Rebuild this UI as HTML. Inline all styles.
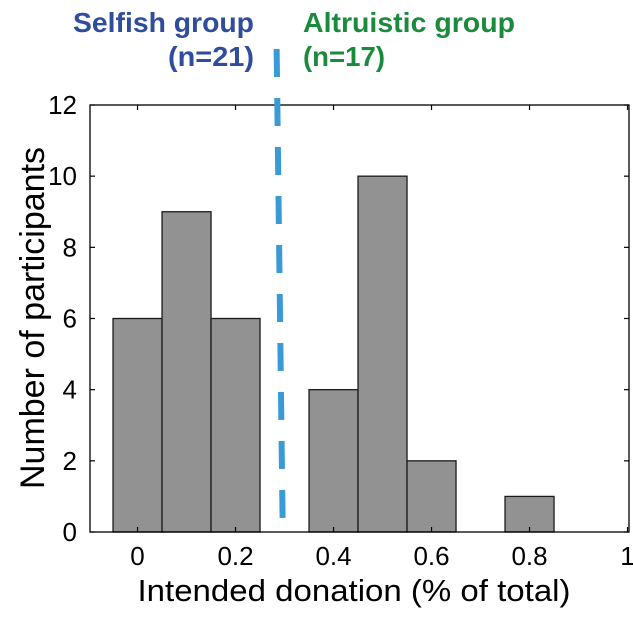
<!DOCTYPE html>
<html><head><meta charset="utf-8"><style>
html,body{margin:0;padding:0;background:#fff;}
svg{display:block;font-family:"Liberation Sans",Arial,sans-serif;}
</style></head><body>
<svg id="chart" width="633" height="617" viewBox="0 0 633 617">
  <text x="73" y="32" font-size="28" font-weight="bold" fill="#2f4d9c" textLength="181" lengthAdjust="spacingAndGlyphs">Selfish group</text>
  <text x="254" y="66" font-size="28" font-weight="bold" fill="#2f4d9c" text-anchor="end" textLength="86" lengthAdjust="spacingAndGlyphs">(n=21)</text>
  <text x="303" y="32" font-size="28" font-weight="bold" fill="#1c8a3c" textLength="212" lengthAdjust="spacingAndGlyphs">Altruistic group</text>
  <text x="303" y="66" font-size="28" font-weight="bold" fill="#1c8a3c" textLength="82" lengthAdjust="spacingAndGlyphs">(n=17)</text>
  <g id="bars"></g>
  <rect x="90" y="105" width="539" height="427" fill="none" stroke="#000" stroke-width="1.3"/>
  <g id="ticks"></g>
  <line id="threshold" stroke="#3a9ad6" stroke-width="6" stroke-dasharray="28,21"/>
  <text transform="translate(44,318) rotate(-90)" font-size="34" text-anchor="middle">Number of participants</text>
  <text x="354" y="601" font-size="31" text-anchor="middle" textLength="433" lengthAdjust="spacingAndGlyphs">Intended donation (% of total)</text>
</svg>
<script>
const binCenters = [0, 0.1, 0.2, 0.4, 0.5, 0.6, 0.8];
const counts = [6, 9, 6, 4, 10, 2, 1];
const xTicks = [0, 0.2, 0.4, 0.6, 0.8, 1];
const xTickLabels = ["0", "0.2", "0.4", "0.6", "0.8", "1"];
const yTicks = [0, 2, 4, 6, 8, 10, 12];
const binWidth = 0.1;
const threshold = 0.29;

const ns = "http://www.w3.org/2000/svg";
const X0 = 90, X1 = 629, Y0 = 532, Y1 = 105;
const xMin = -0.097, xMax = 1.003, yMin = 0, yMax = 12;
const sx = v => X0 + (v - xMin) / (xMax - xMin) * (X1 - X0);
const sy = v => Y0 - (v - yMin) / (yMax - yMin) * (Y0 - Y1);
function mk(tag, attrs, parent){const e=document.createElementNS(ns,tag);for(const k in attrs)e.setAttribute(k,attrs[k]);parent.appendChild(e);return e;}

const bars = document.getElementById('bars');
binCenters.forEach((c,i)=>{
  const r = mk('rect',{x:sx(c-binWidth/2),y:sy(counts[i]),width:sx(c+binWidth/2)-sx(c-binWidth/2),height:sy(0)-sy(counts[i]),fill:'#929292',stroke:'#1a1a1a','stroke-width':1.3},bars);
  
  
});

const ticks = document.getElementById('ticks');
xTicks.forEach((t,i)=>{
  const x = sx(t);
  const l1 = mk('line',{x1:x,x2:x,y1:Y0,y2:Y0-5,stroke:'#000','stroke-width':1.2},ticks);
  
  
  const l2 = mk('line',{x1:x,x2:x,y1:Y1,y2:Y1+5,stroke:'#000','stroke-width':1.2},ticks);
  
  
  const tx = mk('text',{x:x,y:Y0+33,'font-size':26,'text-anchor':'middle'},ticks);
  tx.textContent = xTickLabels[i];
  
  
});
yTicks.forEach(t=>{
  const y = sy(t);
  const l1 = mk('line',{x1:X0,x2:X0+5,y1:y,y2:y,stroke:'#000','stroke-width':1.2},ticks);
  
  
  const l2 = mk('line',{x1:X1,x2:X1-5,y1:y,y2:y,stroke:'#000','stroke-width':1.2},ticks);
  
  
  const tx = mk('text',{x:X0-13,y:y+9,'font-size':26,'text-anchor':'end'},ticks);
  tx.textContent = String(t);
  
  
});

const th = document.getElementById('threshold');
th.setAttribute('x1', sx(threshold) - 3);
th.setAttribute('x2', sx(threshold) + 3);
th.setAttribute('y1', 49);
th.setAttribute('y2', 522);
</script>
</body></html>
